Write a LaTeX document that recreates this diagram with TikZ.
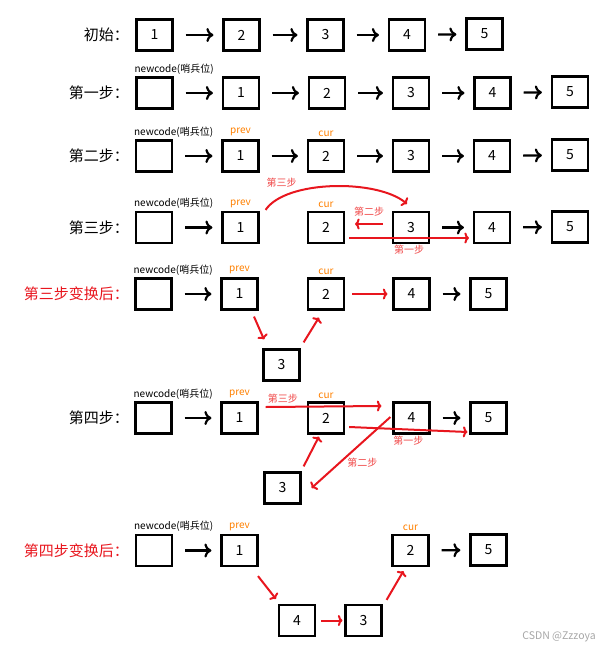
\documentclass[tikz,border=0pt]{standalone}
\usepackage{fontspec}
\setmainfont{Noto Sans CJK SC}
\usetikzlibrary{positioning,arrows.meta}

\definecolor{arrred}{RGB}{232,22,30}
\definecolor{txtred}{RGB}{240,72,72}
\definecolor{ptrorange}{RGB}{255,128,0}

\begin{document}
\begin{tikzpicture}[x=1pt, y=1pt,
	box/.style={draw, line width=2.2pt, minimum width=36pt, minimum height=31pt, inner sep=0pt, font=\fontsize{14}{14}\selectfont},
	row/.style={anchor=east, inner sep=0pt, font=\fontsize{15}{15}\selectfont},
	lab/.style={inner sep=1pt, font=\fontsize{10}{10}\selectfont},
	ptr/.style={lab, text=ptrorange},
	stp/.style={lab, text=txtred},
	nx/.style={line width=2.2pt, -{To[length=7pt,width=14pt]}, shorten <=12pt, shorten >=9pt},
	rx/.style={line width=2pt, arrred, -{To[length=4.5pt,width=11pt]}}]
	\useasboundingbox (0,0) rectangle (610,-654);

	% 初始
	\node[row] (l1) at (129,-35) {初始：};
	\node[box] (i1) at (154.5,-35) {1};
	\node[box] (i2) at (241.5,-35) {2};
	\node[box] (i3) at (325.5,-35) {3};
	\node[box] (i4) at (407,-35) {4};
	\node[box] (i5) at (484.5,-34) {5};
	\path[nx]
		(i1) edge (i2)
		(i2) edge (i3)
		(i3) edge (i4)
		(i4) edge (i5);

	% 第一步
	\node[row] (l2) at (129,-93) {第一步：};
	\node[box] (a0) at (154.5,-93) {};
	\node[box] (a1) at (241,-93) {1};
	\node[box] (a2) at (327,-93) {2};
	\node[box] (a3) at (411,-93) {3};
	\node[box] (a4) at (492.5,-93) {4};
	\node[box] (a5) at (570,-92) {5};
	\node[lab, above right=1pt and -2pt of a0.north west] (a0n) {newcode(哨兵位)};
	\path[nx]
		(a0) edge (a1)
		(a1) edge (a2)
		(a2) edge (a3)
		(a3) edge (a4)
		(a4) edge (a5);

	% 第二步
	\node[row] (l3) at (129,-156) {第二步：};
	\node[box] (b0) at (154,-156) {};
	\node[box] (b1) at (240.5,-156) {1};
	\node[box] (b2) at (326,-156) {2};
	\node[box] (b3) at (411,-156) {3};
	\node[box] (b4) at (492,-156) {4};
	\node[box] (b5) at (570,-155) {5};
	\node[lab, above right=1pt and -2pt of b0.north west] (b0n) {newcode(哨兵位)};
	\node[ptr, above=2pt of b1] (b1p) {prev};
	\node[ptr, above=2pt of b2] (b2c) {cur};
	\path[nx]
		(b0) edge (b1)
		(b1) edge (b2)
		(b2) edge (b3)
		(b3) edge (b4)
		(b4) edge (b5);

	% 第三步
	\node[row] (l4) at (129,-227.5) {第三步：};
	\node[box] (c0) at (154,-227.5) {};
	\node[box] (c1) at (240.5,-227.5) {1};
	\node[box] (c2) at (326,-227.5) {2};
	\node[box] (c3) at (411,-227.5) {3};
	\node[box] (c4) at (492,-227.5) {4};
	\node[box] (c5) at (570,-227) {5};
	\node[lab, above right=1pt and -2pt of c0.north west] (c0n) {newcode(哨兵位)};
	\node[ptr, above=2pt of c1] (c1p) {prev};
	\node[ptr, above=2pt of c2] (c2c) {cur};
	\path[nx]
		(c0) edge (c1)
		(c3) edge (c4)
		(c4) edge (c5);
	\draw[rx] ([xshift=-9pt,yshift=3.5pt]c3.west) -- node[stp, above=6pt] {第二步} ([xshift=10pt,yshift=3.5pt]c2.east);
	\draw[rx] ([xshift=4pt,yshift=-10.5pt]c2.east) -- node[stp, below=5pt] {第一步} ([xshift=-4pt,yshift=-10.5pt]c4.west);
	\draw[rx] ([xshift=6pt,yshift=1pt]c1.north east) .. controls +(20,30) and +(-30,25) .. ([xshift=-4pt,yshift=7pt]c3.north);
	\node[stp] (c1s) at ([xshift=22pt,yshift=28pt]c1.north east) {第三步};

	% 第三步变换后
	\node[row, text=arrred] (l5) at (129,-294) {第三步变换后：};
	\node[box] (d0) at (153.5,-294) {};
	\node[box] (d1) at (239.5,-294) {1};
	\node[box] (d2) at (326,-294) {2};
	\node[box] (d4) at (411.5,-294) {4};
	\node[box] (d5) at (488.5,-294) {5};
	\node[box] (d3) at (281.5,-365) {3};
	\node[lab, above right=1pt and -2pt of d0.north west] (d0n) {newcode(哨兵位)};
	\node[ptr, above=2pt of d1] (d1p) {prev};
	\node[ptr, above=2pt of d2] (d2c) {cur};
	\path[nx]
		(d0) edge (d1)
		(d4) edge (d5);
	\draw[rx] ([xshift=14.5pt,yshift=-6pt]d1.south) -- ([xshift=-17.5pt,yshift=9pt]d3.north);
	\draw[rx] ([xshift=3pt,yshift=6pt]d3.north east) -- ([xshift=12pt,yshift=-7pt]d2.south west);
	\draw[rx] ([xshift=7pt]d2.east) -- ([xshift=-5pt]d4.west);

	% 第四步
	\node[row] (l6) at (129,-418) {第四步：};
	\node[box] (e0) at (153.5,-418) {};
	\node[box] (e1) at (239.5,-418) {1};
	\node[box] (e2) at (326,-418) {2};
	\node[box] (e4) at (411.5,-418) {4};
	\node[box] (e5) at (488.5,-418) {5};
	\node[box] (e3) at (282.5,-488) {3};
	\node[lab, above right=1pt and -2pt of e0.north west] (e0n) {newcode(哨兵位)};
	\node[ptr, above=2pt of e1] (e1p) {prev};
	\node[ptr, above=2pt of e2] (e2c) {cur};
	\path[nx]
		(e0) edge (e1)
		(e4) edge (e5);
	\draw[rx] ([xshift=7pt,yshift=11pt]e1.east) -- node[stp, pos=0.15, above=2pt] {第三步} ([xshift=-11pt,yshift=12pt]e4.west);
	\draw[rx] ([xshift=4pt,yshift=-9pt]e2.east) -- node[stp, midway, below=5pt] {第一步} ([xshift=-2pt,yshift=-14pt]e5.west);
	\draw[rx] ([xshift=-2pt,yshift=1pt]e4.west) -- ([xshift=10pt]e3.east);
	\node[stp] (e4s) at ([xshift=-30pt,yshift=-45pt]e4.west) {第二步};
	\draw[rx] ([xshift=2pt,yshift=5pt]e3.north east) -- ([xshift=12pt,yshift=-2pt]e2.south west);

	% 第四步变换后
	\node[row, text=arrred] (l7) at (129,-550.5) {第四步变换后：};
	\node[box] (f0) at (154,-550.5) {};
	\node[box] (f1) at (239.5,-550.5) {1};
	\node[box] (f2) at (410.5,-550.5) {2};
	\node[box] (f5) at (488.5,-550) {5};
	\node[box] (f4) at (297,-620.5) {4};
	\node[box] (f3) at (363.5,-620.5) {3};
	\node[lab, above right=1pt and -2pt of f0.north west] (f0n) {newcode(哨兵位)};
	\node[ptr, above=2pt of f1] (f1p) {prev};
	\node[ptr, above=2pt of f2] (f2c) {cur};
	\path[nx]
		(f0) edge (f1)
		(f2) edge (f5);
	\draw[rx] ([xshift=18.5pt,yshift=-9pt]f1.south) -- ([xshift=-2pt,yshift=5pt]f4.north west);
	\draw[rx] ([xshift=5pt]f4.east) -- ([xshift=-2pt]f3.west);
	\draw[rx] ([xshift=4pt,yshift=4pt]f3.north east) -- ([xshift=12pt,yshift=-4pt]f2.south west);

	\node[font=\fontsize{10.5}{10.5}\selectfont, text=gray!70, anchor=east, inner sep=0pt] (mark) at (596,-637) {CSDN @Zzzoya};
\end{tikzpicture}
\end{document}
